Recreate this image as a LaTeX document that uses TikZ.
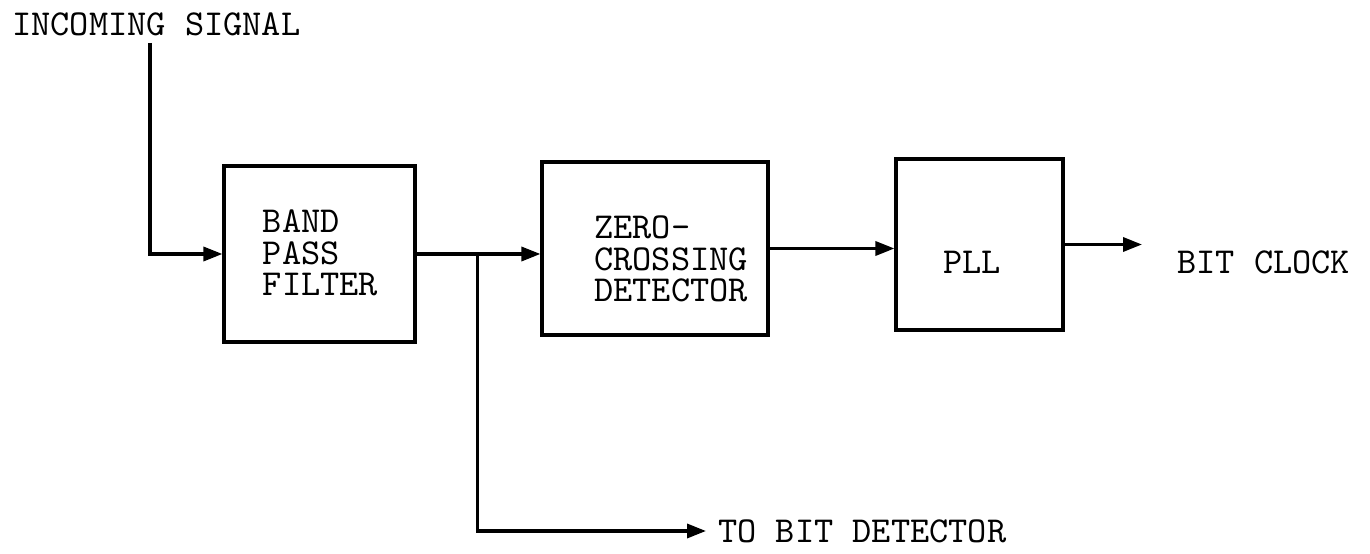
\documentclass[tikz,border=0pt]{standalone}
\usepackage{fontspec}
\usetikzlibrary{
  arrows.meta,
  positioning,
  calc
}
\newcommand{\typetext}{\fontsize{10.4}{8.9}\selectfont\ttfamily}
\tikzset{
  block/.style={draw, line width=0.9pt, inner sep=0pt},
  blocktext/.style={align=left, font=\typetext},
  sig/.style={line width=0.9pt, -{Triangle[length=5.4pt,width=4pt]}}
}

\begin{document}
\begin{tikzpicture}
            \useasboundingbox (0,0) rectangle (13.70,5.54);

            % Blocks
            \node[block, minimum width=1.91cm, minimum height=1.76cm] (bpf) at (3.195,3.00) {};
            \node[blocktext] (bpftext) at ([shift={(0.01,0.01)}]bpf.center) {BAND\\PASS\\FILTER};
            \node[block, minimum width=2.26cm, minimum height=1.73cm] (zcd) at (6.55,3.055) {};
            \node[blocktext] (zcdtext) at ([shift={(0.16,-0.105)}]zcd.center) {ZERO-\\CROSSING\\DETECTOR};
            \node[block, minimum width=1.67cm, minimum height=1.71cm] (pll) at (9.795,3.095) {};
            \node[blocktext] (plltext) at ([shift={(-0.075,-0.175)}]pll.center) {PLL};

            % Terminal labels
            \node[font=\typetext, anchor=west] (insig) at (0,5.30) {INCOMING SIGNAL};
            \node[font=\typetext, anchor=west] (todet) at (7.06,0.23) {TO BIT DETECTOR};
            \node[font=\typetext, anchor=west] (clk) at (11.65,2.92) {BIT CLOCK};
            \coordinate (intop) at (1.50,5.11);
            \coordinate (clkend) at (11.42,3.10);

            % Signal path
            \draw[sig] (intop) |- (bpf.west);
            \draw[sig] (bpf.east) -- (bpf.east -| zcd.west);
            \coordinate (tap) at ($(bpf.east)!0.49!(bpf.east -| zcd.west)$);
            \draw[sig] (tap) |- (todet.west);
            \draw[sig] (zcd.east) -- (zcd.east -| pll.west);
            \draw[sig] (pll.east) -- (pll.east -| clkend);
        \end{tikzpicture}
\end{document}
